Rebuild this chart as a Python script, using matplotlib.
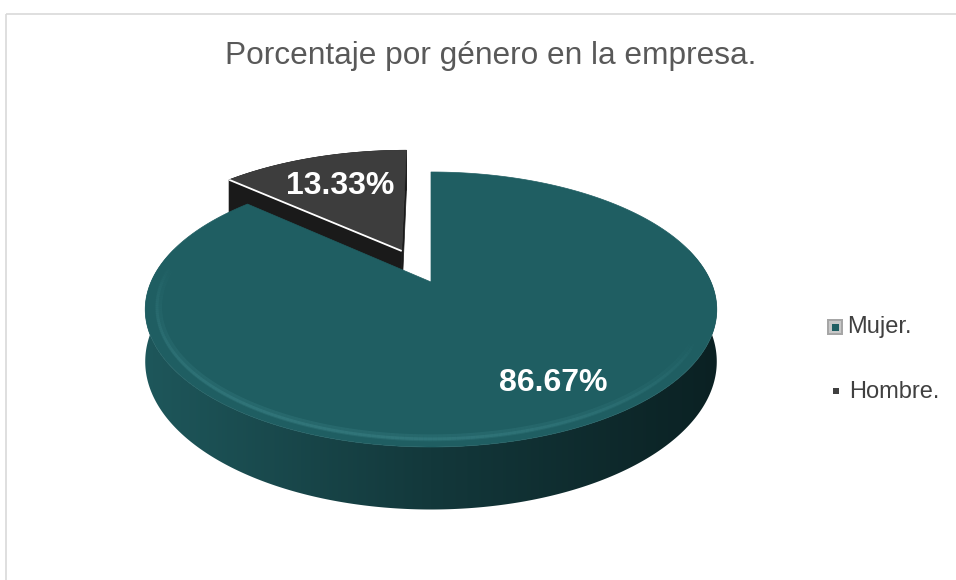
import numpy as np
import matplotlib
matplotlib.use("Agg")
import matplotlib.pyplot as plt
from matplotlib.patches import Polygon, Rectangle
from matplotlib.collections import LineCollection
from matplotlib.colors import to_rgb

# ---------------- data ----------------
categories = ["Mujer.", "Hombre."]
values = [86.67, 13.33]
label_texts = ["86.67%", "13.33%"]
title_text = "Porcentaje por género en la empresa."

# ---------------- style ----------------
top_colors = ["#1F5E62", "#3D3D3D"]
side_left = ["#1E575B", "#1A1A1A"]
side_mid = ["#13383B", "#1A1A1A"]
side_right = ["#0B2123", "#1A1A1A"]
radial_colors = ["#14393C", "#1A1A1A"]
explode = [0.0, 0.27]

W, H = 956, 580
fig = plt.figure(figsize=(W / 100, H / 100), dpi=100)
ax = fig.add_axes([0, 0, 1, 1])
ax.set_xlim(0, W)
ax.set_ylim(H, 0)
ax.axis("off")
plt.rcParams["font.family"] = ["Liberation Sans", "DejaVu Sans"]

# chart border
ax.add_patch(Rectangle((6.5, 13.5), W, H, fill=False, ec="#D9D9D9", lw=1.2))

# perspective projection of a unit disk
CX, CY, A, B, K, D = 431, 282, 280, 132, 0.2, 50
CAM_V = -1.0 / K


def proj(u, v, depth=0.0):
    u = np.asarray(u, float)
    v = np.asarray(v, float)
    w = 1 + K * v
    return CX + A * u / w, CY + (-B * v + D * depth) / w


def in_range(ang, t1, t2):
    # slice runs clockwise from t1 down to t2
    a = (t1 - ang) % 360
    return a <= (t1 - t2) + 1e-9


total = float(sum(values))
start = 90.0
slices = []
cum = 0.0
for i, val in enumerate(values):
    t1 = start - cum / total * 360.0
    t2 = t1 - val / total * 360.0
    cum += val
    mid = np.radians((t1 + t2) / 2)
    ox, oy = explode[i] * np.cos(mid), explode[i] * np.sin(mid)
    slices.append((i, t1, t2, ox, oy))

order = sorted(slices, key=lambda s: -s[4])

for (i, t1, t2, ox, oy) in order:
    n = max(int(abs(t1 - t2)) * 2, 8)
    th = np.radians(np.linspace(t1, t2, n))
    u = ox + np.cos(th)
    v = oy + np.sin(th)
    xt, yt = proj(u, v, 0)
    xb, yb = proj(u, v, 1)

    # curved outer side: silhouette polygon with horizontal gradient
    deg = np.degrees(th) % 360
    front = np.array([(d >= 165 or d <= 15) for d in deg])
    if front.sum() > 2:
        idx = np.where(front)[0]
        poly = list(zip(xt[idx], yt[idx])) + list(zip(xb[idx][::-1], yb[idx][::-1]))
        patch = Polygon(poly, closed=True, fc="none", ec="none")
        ax.add_patch(patch)
        x0, x1 = min(xt.min(), xb.min()) - 2, max(xt.max(), xb.max()) + 2
        y0, y1 = yt.min() - 2, yb.max() + 2
        gx = np.linspace(0, 1, 256)
        cl, cm, cr = (np.array(to_rgb(c)) for c in (side_left[i], side_mid[i], side_right[i]))
        img = np.where(gx[:, None] < 0.5,
                       cl + (cm - cl) * (gx[:, None] / 0.5),
                       cm + (cr - cm) * ((gx[:, None] - 0.5) / 0.5))
        img = np.repeat(img[None, :, :], 4, axis=0)
        im = ax.imshow(img, extent=(x0, x1, y1, y0), aspect="auto", interpolation="bilinear", zorder=1)
        im.set_clip_path(patch)
    else:
        # back side of exploded slice
        poly = list(zip(xt, yt)) + list(zip(xb[::-1], yb[::-1]))
        ax.add_patch(Polygon(poly, closed=True, fc=side_left[i], ec=side_left[i], lw=0.5, zorder=1))

    # radial faces (backface culled)
    for ta, sgn in ((t1, 1), (t2, -1)):
        a_ = np.radians(ta)
        nu, nv = np.cos(a_ + sgn * np.pi / 2), np.sin(a_ + sgn * np.pi / 2)
        pu, pv = ox + 0.5 * np.cos(a_), oy + 0.5 * np.sin(a_)
        if nu * (0 - pu) + nv * (CAM_V - pv) > 1e-3:
            eu, ev = ox + np.cos(a_), oy + np.sin(a_)
            p1 = proj(ox, oy, 0)
            p2 = proj(eu, ev, 0)
            p3 = proj(eu, ev, 1)
            p4 = proj(ox, oy, 1)
            ax.add_patch(Polygon([p1, p2, p3, p4], closed=True, zorder=1,
                                 fc=radial_colors[i], ec=radial_colors[i], lw=0.5))
    # top face
    vx, vy = proj(ox, oy, 0)
    poly = [(vx, vy)] + list(zip(xt, yt))
    ax.add_patch(Polygon(poly, closed=True, fc=top_colors[i], ec=top_colors[i], lw=0.5, zorder=1))
    # bevel highlights
    if i == 0:
        for r, lw, amax in ((0.955, 5.0, 0.18), (0.96, 2.0, 0.25)):
            hth = np.radians(np.linspace(172, 335, 200))
            hu, hv = ox + r * np.cos(hth), oy + r * np.sin(hth)
            hx, hy = proj(hu, hv, 0)
            pts = np.column_stack([hx, hy])
            segs = np.stack([pts[:-1], pts[1:]], axis=1)
            tt = np.linspace(0, 1, len(segs))
            alph = np.sin(np.pi * tt) ** 0.7 * amax
            cols = [(0.30, 0.60, 0.62, a) for a in alph]
            ax.add_collection(LineCollection(segs, colors=cols, linewidths=lw, zorder=1))
    else:
        a_ = np.radians(t1)
        p2 = proj(ox + np.cos(a_), oy + np.sin(a_), 0)
        ax.plot([vx, p2[0]], [vy, p2[1]], color="white", lw=1.3,
                solid_capstyle="butt", zorder=1)

# data labels
label_pos = [(553, 383), (340, 186)]
for txt, (x, y) in zip(label_texts, label_pos):
    ax.text(x, y, txt, color="white", fontsize=23, fontweight="bold",
            ha="center", va="center", zorder=3)

# title
ax.text(491, 56, title_text, color="#595959", fontsize=22.8, ha="center", va="center")

# legend
leg_y = [327, 392]
ax.add_patch(Rectangle((827, 319), 16, 16, fc="#A6A6A6", ec="none"))
ax.add_patch(Rectangle((829, 321), 12, 12, fc="#C8C8C8", ec="none"))
ax.add_patch(Rectangle((832, 324), 7, 7, fc=top_colors[0], ec="none"))
ax.add_patch(Rectangle((833, 388), 6, 6, fc="#404040", ec="none"))
ax.text(847, leg_y[0], categories[0], color="#404040", fontsize=17, ha="left", va="center")
ax.text(849, leg_y[1], categories[1], color="#404040", fontsize=17, ha="left", va="center")

fig.savefig("out.png", dpi=100)
